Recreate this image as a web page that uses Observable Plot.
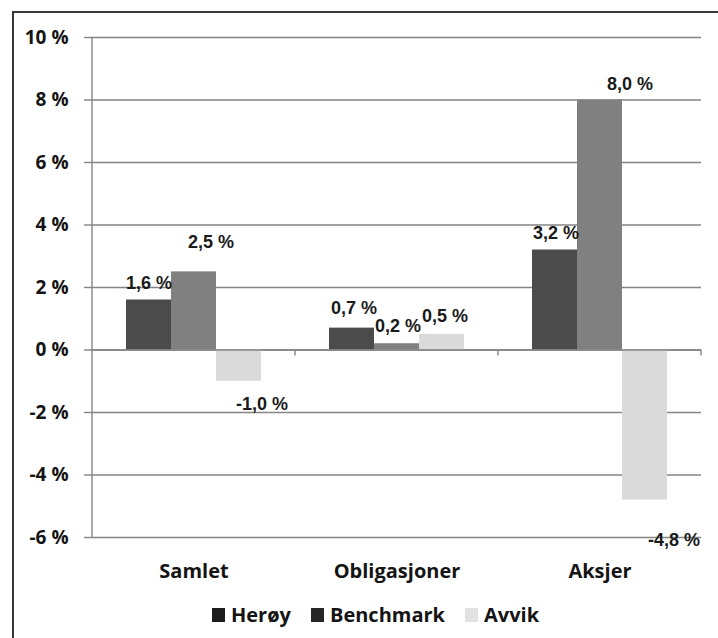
<!DOCTYPE html>
<html>
<head>
<meta charset="utf-8">
<script src="https://cdn.jsdelivr.net/npm/d3@7"></script>
<script src="https://cdn.jsdelivr.net/npm/@observablehq/plot@0.6"></script>
<style>
  body { margin: 0; background: #fff; }
  #wrap { position: relative; width: 718px; height: 638px; overflow: hidden; font-family: "Open Sans", sans-serif; }
  #border { position: absolute; left: 12px; top: 11px; width: 720px; height: 640px; border-top: 2px solid #3a3a3a; border-left: 2px solid #3a3a3a; }
  #chart { position: absolute; left: 0; top: 0; }
  #legend { position: absolute; left: 212px; top: 601px; display: flex; align-items: center; font-weight: 700; font-size: 20px; color: #141414; line-height: 28px; }
  .item { display: flex; align-items: center; margin-right: 20px; }
  .sw { width: 13px; height: 14px; margin-right: 6px; }
</style>
</head>
<body>
<div id="wrap">
  <div id="border"></div>
  <div id="chart"></div>
  <div id="legend"></div>
</div>
<script>
const categories = ["Samlet", "Obligasjoner", "Aksjer"];
const series = ["Herøy", "Benchmark", "Avvik"];
const heroy = [1.6, 0.7, 3.2];
const benchmark = [2.5, 0.2, 8.0];
const avvik = [-1.0, 0.5, -4.8];
const yTicks = [-6, -4, -2, 0, 2, 4, 6, 8, 10];

const seriesValues = [heroy, benchmark, avvik];
const rows = categories.flatMap((c, i) =>
  series.map((s, j) => ({ category: c, series: s, value: seriesValues[j][i] }))
);

const barColors = ["#4b4b4b", "#808080", "#dadada"];
const legendColors = ["#1c1c1c", "#262626", "#e2e2e2"];
const fmt = v => v.toFixed(1).replace(".", ",") + " %";

// label nudges (dx, dy) relative to the bar end, as placed in the original
const nudge = {
  "Samlet|Herøy": [0, -17], "Samlet|Benchmark": [17, -30], "Samlet|Avvik": [23, 23],
  "Obligasjoner|Herøy": [2, -20], "Obligasjoner|Benchmark": [1, -18], "Obligasjoner|Avvik": [3, -18],
  "Aksjer|Herøy": [1, -17], "Aksjer|Benchmark": [30, -16], "Aksjer|Avvik": [29, 40]
};

const gridColor = "#858585";

const labelMarks = rows.map(d => {
  const [dx, dy] = nudge[d.category + "|" + d.series];
  return Plot.text([d], {
    fx: "category", x: "series", y: "value", text: r => fmt(r.value),
    dx, dy, fontFamily: "Liberation Sans", fontWeight: 700, fontSize: 18,
    fill: "#1a1a1a", lineAnchor: "middle", textAnchor: "middle"
  });
});

const plot = Plot.plot({
  width: 718, height: 590,
  marginTop: 37, marginBottom: 53, marginLeft: 92, marginRight: 17,
  style: { fontFamily: "Open Sans", background: "transparent", overflow: "visible" },
  fx: { domain: categories, padding: 0, label: null },
  x: { domain: series, paddingInner: 0, paddingOuter: 0.755, axis: null },
  y: { domain: [-6, 10], label: null },
  color: { domain: series, range: barColors },
  marks: [
    Plot.gridY(yTicks, { stroke: gridColor, strokeOpacity: 1, strokeWidth: 1.4 }),
    Plot.barY(rows, { fx: "category", x: "series", y: "value", fill: "series" }),
    Plot.ruleY([0], { stroke: gridColor, strokeWidth: 1.4 }),
    Plot.axisY(yTicks, {
      tickSize: 8, tickPadding: 16, tickFormat: d => `${d} %`,
      fontSize: 19, fontWeight: 700, stroke: gridColor, strokeWidth: 1.4, fill: "#141414", label: null
    }),
    Plot.axisFx({ anchor: "bottom", tickSize: 0, tickPadding: 26, fontSize: 20, fontWeight: 700, fill: "#141414", label: null }),
    ...labelMarks
  ]
});

// vertical value-axis line and category tick marks on the zero line, via the plot's scales
const fxs = plot.scale("fx"), ys = plot.scale("y");
const svg = d3.select(plot);
const x0 = fxs.apply(categories[0]);
svg.append("line")
  .attr("x1", x0).attr("x2", x0)
  .attr("y1", ys.apply(10)).attr("y2", ys.apply(-6))
  .attr("stroke", gridColor).attr("stroke-width", 1.4);
categories.forEach(c => {
  const xr = fxs.apply(c) + fxs.bandwidth;
  svg.append("line")
    .attr("x1", xr).attr("x2", xr)
    .attr("y1", ys.apply(0)).attr("y2", ys.apply(0) + 6)
    .attr("stroke", gridColor).attr("stroke-width", 1.4);
});

document.getElementById("chart").appendChild(plot);

const legend = d3.select("#legend");
series.forEach((s, i) => {
  const it = legend.append("div").attr("class", "item");
  it.append("div").attr("class", "sw").style("background", legendColors[i]);
  it.append("span").text(s);
});
</script>
</body>
</html>
